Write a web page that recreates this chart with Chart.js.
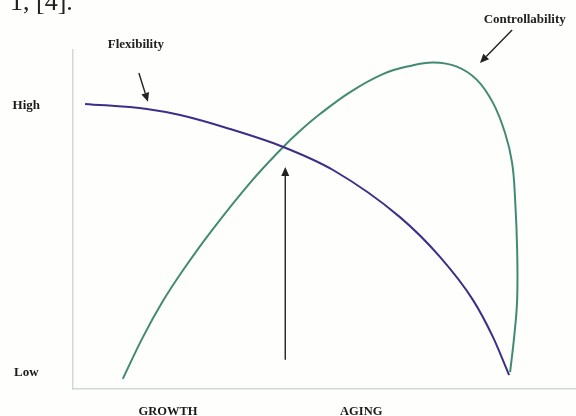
<!DOCTYPE html>
<html>
<head>
<meta charset="utf-8">
<script src="https://cdn.jsdelivr.net/npm/chart.js@4.4.1/dist/chart.umd.min.js"></script>
<style>
  html, body { margin: 0; padding: 0; background: #fefefc; }
  #wrap { width: 576px; height: 416px; position: relative; }
</style>
</head>
<body>
<div id="wrap"><canvas id="c" width="576" height="416"></canvas></div>
<script>
// life-cycle sketch: flexibility vs controllability (units: 0..100 along each axis)
const flexX = [2.4, 14.7, 21.3, 31.2, 41.8, 51.7, 65.0, 73.0, 79.5, 83.5, 86.7];
const flexY = [84.1, 82.6, 80.8, 76.7, 71.4, 64.6, 50.7, 38.9, 26.3, 15.3, 4.1];

const ctrlX = [9.9, 13.9, 17.9, 21.9, 27.2, 35.2, 41.8, 45.1, 49.1, 55.1, 61.6, 67.0, 71.6,
               76.3, 80.3, 83.5, 85.9, 87.3, 87.9, 88.3, 88.3, 87.7, 86.9];
const ctrlY = [3.0, 15.3, 26.0, 35.1, 46.0, 60.8, 71.4, 76.1, 81.1, 87.6, 92.9, 95.3, 96.3,
               95.1, 91.2, 84.4, 75.5, 66.7, 55.8, 41.0, 26.3, 15.3, 5.0];

const xTickVals = [18.9, 57.3];
const xTickLabels = ['GROWTH', 'AGING'];
const yTickVals = [4.7, 83.5];
const yTickLabels = ['Low', 'High'];

// annotation arrows [x0, y0, x1, y1], head at second point
const arrows = [
    [13.1, 93.2, 14.9, 84.7],
    [87.3, 105.9, 80.9, 96.2],
    [42.2, 8.6, 42.2, 65.5]
];
const notes = [
    { text: 'Flexibility', x: 12.5, y: 101.5 },
    { text: 'Controllability', x: 89.8, y: 109.0 }
];

const pts = (xs, ys) => xs.map((x, i) => ({ x: x, y: ys[i] }));
const serif = '"Liberation Serif", "DejaVu Serif", serif';

const annot = {
    id: 'annot',
    afterDatasetsDraw(chart) {
        const { ctx, scales: { x, y } } = chart;
        ctx.save();
        ctx.strokeStyle = '#222';
        ctx.fillStyle = '#222';
        ctx.lineWidth = 1.4;
        arrows.forEach(a => {
            const x0 = x.getPixelForValue(a[0]), y0 = y.getPixelForValue(a[1]);
            const x1 = x.getPixelForValue(a[2]), y1 = y.getPixelForValue(a[3]);
            const ang = Math.atan2(y1 - y0, x1 - x0);
            const hl = 9, hw = 4;
            const bx = x1 - hl * Math.cos(ang), by = y1 - hl * Math.sin(ang);
            ctx.beginPath();
            ctx.moveTo(x0, y0);
            ctx.lineTo(bx, by);
            ctx.stroke();
            ctx.beginPath();
            ctx.moveTo(x1, y1);
            ctx.lineTo(bx + hw * Math.sin(ang), by - hw * Math.cos(ang));
            ctx.lineTo(bx - hw * Math.sin(ang), by + hw * Math.cos(ang));
            ctx.closePath();
            ctx.fill();
        });
        ctx.font = 'bold 13px ' + serif;
        ctx.textAlign = 'center';
        ctx.textBaseline = 'middle';
        notes.forEach(n => {
            ctx.fillText(n.text, x.getPixelForValue(n.x), y.getPixelForValue(n.y));
        });
        // leftover of the surrounding page text
        ctx.font = '26px ' + serif;
        ctx.textAlign = 'left';
        ctx.textBaseline = 'alphabetic';
        ctx.fillText('1, [4].', 10, 10);
        ctx.restore();
    }
};

new Chart(document.getElementById('c'), {
    type: 'scatter',
    data: {
        datasets: [
            { label: 'Flexibility', data: pts(flexX, flexY), showLine: true, cubicInterpolationMode: 'monotone',
              borderColor: '#3b2f88', borderWidth: 2, pointRadius: 0 },
            { label: 'Controllability', data: pts(ctrlX, ctrlY), showLine: true, tension: 0.4,
              borderColor: '#438a74', borderWidth: 2, pointRadius: 0 }
        ]
    },
    options: {
        responsive: false,
        animation: false,
        layout: { padding: { top: 50, right: 0, left: 0, bottom: 0 } },
        plugins: { legend: { display: false }, tooltip: { enabled: false } },
        scales: {
            x: {
                type: 'linear', min: 0, max: 100,
                grid: { display: false, drawTicks: false },
                border: { display: true, color: '#d2dad4', width: 1.5 },
                afterFit: s => { s.height = 27; s.paddingLeft = 0; s.paddingRight = 0; },
                afterBuildTicks: s => { s.ticks = xTickVals.map(v => ({ value: v })); },
                ticks: {
                    autoSkip: false, maxRotation: 0, padding: 15, color: '#1a1a1a',
                    font: { family: serif, size: 12.5, weight: 'bold' },
                    callback: (v) => xTickLabels[xTickVals.indexOf(v)]
                }
            },
            y: {
                type: 'linear', min: 0, max: 100,
                grid: { display: false, drawTicks: false },
                border: { display: true, color: '#d2dad4', width: 1.5 },
                afterFit: s => { s.width = 73; s.paddingTop = 0; s.paddingBottom = 0; },
                afterBuildTicks: s => { s.ticks = yTickVals.map(v => ({ value: v })); },
                ticks: {
                    autoSkip: false, padding: 33, crossAlign: 'center', color: '#1a1a1a',
                    font: { family: serif, size: 13, weight: 'bold' },
                    callback: (v) => yTickLabels[yTickVals.indexOf(v)]
                }
            }
        }
    },
    plugins: [annot]
});
</script>
</body>
</html>
